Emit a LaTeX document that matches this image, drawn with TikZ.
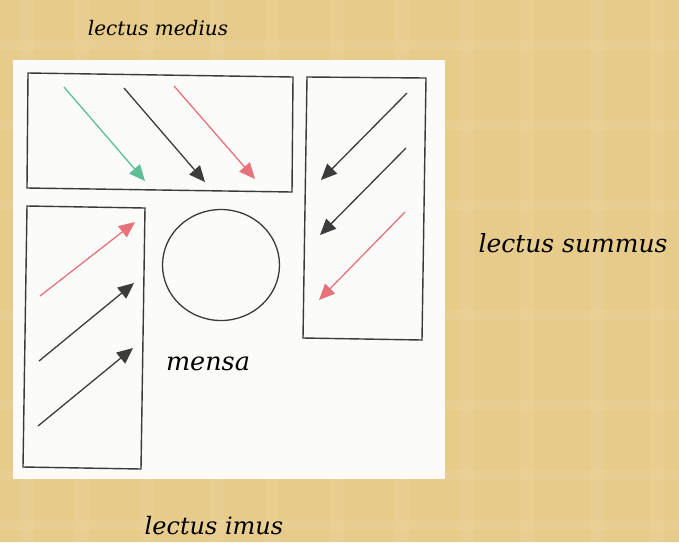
\documentclass[tikz,border=0pt]{standalone}
\usepackage{fontspec}
\setmainfont{DejaVu Serif}
\usetikzlibrary{arrows.meta,shapes.geometric}
\definecolor{parch}{HTML}{E6CB8A}
\definecolor{parchlight}{HTML}{EED9A2}
\definecolor{paper}{HTML}{FBFBFA}
\definecolor{frame}{HTML}{3A3A3A}
\definecolor{greenarr}{HTML}{5DBE98}
\definecolor{redarr}{HTML}{E7737A}
\definecolor{darkarr}{HTML}{3C3C3C}
\tikzset{
  couch/.style={draw=frame, line width=1.4pt, line join=miter},
  arr/.style={line width=1.3pt, -{Triangle[length=16pt,width=14pt]}},
  lbl/.style={text=black, inner sep=0pt, anchor=base},
}
\begin{document}
\begin{tikzpicture}[x=1pt,y=-1pt]
\useasboundingbox (0,0) rectangle (679,542);
\fill[parch] (0,0) rectangle (679,542);
\foreach \x in {20,75,140,210,265,330,395,460,520,590,650}
  \fill[parchlight,opacity=0.3] (\x,0) rectangle (\x+14,542);
\foreach \y in {40,120,200,310,400,470,520}
  \fill[parchlight,opacity=0.25] (0,\y) rectangle (679,\y+10);
\fill[paper] (13,60) rectangle (445,479);
% couches
\draw[couch] (28,73) -- (293,77) -- (292,192) -- (27,188) -- cycle;
\draw[couch] (307,77) -- (426,78) -- (422,340) -- (303,338) -- cycle;
\draw[couch] (27,206) -- (145,208) -- (141,469) -- (23,467) -- cycle;
% table
\node[draw=frame, line width=1.3pt, ellipse, minimum width=117pt, minimum height=111pt, inner sep=0pt] (table) at (221,265) {};
% arrow coordinates
\coordinate (m1s) at (64,87);   \coordinate (m1e) at (145,181);
\coordinate (m2s) at (124,88);  \coordinate (m2e) at (205,182);
\coordinate (m3s) at (174,86);  \coordinate (m3e) at (255,179);
\coordinate (s1s) at (407,93);  \coordinate (s1e) at (321,180);
\coordinate (s2s) at (406,148); \coordinate (s2e) at (320,235);
\coordinate (s3s) at (405,212); \coordinate (s3e) at (319,300);
\coordinate (i1s) at (40,296);  \coordinate (i1e) at (135,222);
\coordinate (i2s) at (39,361);  \coordinate (i2e) at (134,283);
\coordinate (i3s) at (38,426);  \coordinate (i3e) at (133,348);
\draw[arr, greenarr] (m1s) -- (m1e);
\draw[arr, darkarr] (m2s) -- (m2e);
\draw[arr, redarr] (m3s) -- (m3e);
\draw[arr, darkarr] (s1s) -- (s1e);
\draw[arr, darkarr] (s2s) -- (s2e);
\draw[arr, redarr] (s3s) -- (s3e);
\draw[arr, redarr] (i1s) -- (i1e);
\draw[arr, darkarr] (i2s) -- (i2e);
\draw[arr, darkarr] (i3s) -- (i3e);
% labels
\node[lbl, font=\itshape\fontsize{20}{22}\selectfont] (medius) at (158,35) {lectus medius};
\node[lbl, font=\itshape\fontsize{25}{28}\selectfont] (summus) at (573,252) {lectus summus};
\node[lbl, font=\itshape\fontsize{24}{27}\selectfont] (imus) at (214,534) {lectus imus};
\node[lbl, font=\itshape\fontsize{25.5}{28}\selectfont] (mensa) at (208,370) {mensa};
\end{tikzpicture}
\end{document}
